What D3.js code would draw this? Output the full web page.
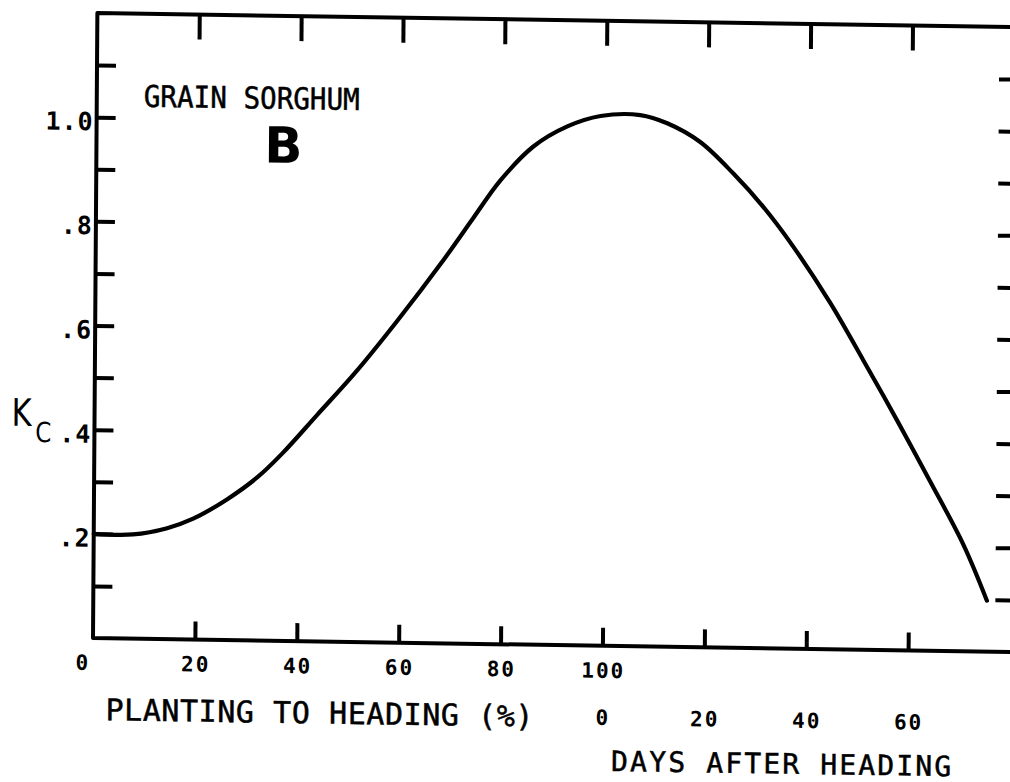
<!DOCTYPE html>
<html>
<head>
<meta charset="utf-8">
<script src="https://cdn.jsdelivr.net/npm/d3@7"></script>
<style>
  html, body { margin: 0; padding: 0; background: #fff; }
  svg { display: block; }
</style>
</head>
<body>
<svg id="chart" width="1010" height="782"></svg>
<script>
// ---- data ----
// x: 0-100 = % planting to heading, 100+ = 100 + days after heading
const stageX = [0, 7.7, 14.4, 19.5, 26.1, 32.0, 37.1, 43.7, 51.1, 59.3, 68.2, 74.1, 79.3, 85.7, 92.4, 98.9,
                106.7, 112.0, 118.5, 125.1, 131.0, 136.9, 144.3, 150.8, 157.6, 164.1, 170.7, 175.4];
const kcValues = [0.20, 0.20, 0.213, 0.232, 0.27, 0.313, 0.362, 0.435, 0.517, 0.618, 0.735, 0.818, 0.89, 0.956, 0.996, 1.017,
                  1.02, 1.005, 0.97, 0.91, 0.847, 0.772, 0.664, 0.556, 0.44, 0.325, 0.205, 0.098];

const pctTickValues = [0, 20, 40, 60, 80, 100];
const pctTickLabels = ["0", "20", "40", "60", "80", "100"];
const dayTickValues = [0, 20, 40, 60];
const dayTickLabels = ["0", "20", "40", "60"];
const frameTickValues = [20, 40, 60, 80, 100, 120, 140, 160];
const yTickValues = [0.1, 0.2, 0.3, 0.4, 0.5, 0.6, 0.7, 0.8, 0.9, 1.0, 1.1];
const yLabelValues = [1.0, 0.8, 0.6, 0.4, 0.2];
const yLabelTexts = ["1.0", ".8", ".6", ".4", ".2"];

const titleText = "GRAIN SORGHUM";
const panelText = "B";
const xTitle1 = "PLANTING TO HEADING (%)";
const xTitle2 = "DAYS AFTER HEADING";
const yTitleMain = "K";
const yTitleSub = "C";

// ---- layout ----
const svg = d3.select("#chart");
svg.append("rect").attr("width", 1010).attr("height", 782).attr("fill", "#fff");

const plotW = 920, plotH = 625;
const xScale = d3.scaleLinear().domain([0, 180]).range([0, 917]);
const yScale = d3.scaleLinear().domain([0, 1.2]).range([0, -plotH]);

// slight skew, as in the scanned original
const g = svg.append("g").attr("transform", "matrix(1,0.0153,-0.007,1,93,638)");

const mono = "'DejaVu Sans Mono', 'Liberation Mono', monospace";

// frame
g.append("path")
  .attr("d", `M${plotW + 10},${-plotH} H0 V0 H${plotW + 10}`)
  .attr("fill", "none").attr("stroke", "#000").attr("stroke-width", 4)
  .attr("stroke-linejoin", "round");

function styleAxis(sel) {
  sel.select(".domain").remove();
  sel.selectAll(".tick line").attr("stroke", "#000").attr("stroke-width", 4);
  sel.selectAll(".tick text").remove();
}

g.append("g").call(d3.axisBottom(xScale).tickValues(frameTickValues).tickSize(-18).tickFormat(""))
  .call(styleAxis);
g.append("g").attr("transform", `translate(0,${-plotH})`)
  .call(d3.axisTop(xScale).tickValues(frameTickValues).tickSize(-25).tickFormat(""))
  .call(styleAxis);
g.append("g").call(d3.axisLeft(yScale).tickValues(yTickValues).tickSize(-19).tickFormat(""))
  .call(styleAxis);
g.append("g").attr("transform", `translate(${plotW},0)`)
  .call(d3.axisRight(yScale).tickValues(yTickValues).tickSize(-18).tickFormat(""))
  .call(styleAxis);

// curve
const pts = stageX.map((x, i) => [x, kcValues[i]]);
g.append("path")
  .datum(pts)
  .attr("d", d3.line().x(d => xScale(d[0])).y(d => yScale(d[1])).curve(d3.curveCatmullRom.alpha(0.5)))
  .attr("fill", "none").attr("stroke", "#000").attr("stroke-width", 4.2)
  .attr("stroke-linecap", "round");

// y tick labels
g.selectAll(".ylab").data(yLabelValues).join("text")
  .attr("x", -3).attr("y", d => yScale(d) + 13)
  .attr("text-anchor", "end")
  .attr("font-family", mono).attr("font-size", 25).attr("font-weight", "bold")
  .attr("letter-spacing", 1)
  .text((d, i) => yLabelTexts[i]);

// x tick labels (percent)
g.selectAll(".xlab").data(pctTickValues).join("text")
  .attr("x", d => d === 0 ? xScale(d) - 10 : xScale(d) + 1)
  .attr("y", 32)
  .attr("text-anchor", "middle")
  .attr("font-family", mono).attr("font-size", 21).attr("font-weight", "bold")
  .attr("letter-spacing", 2)
  .text((d, i) => pctTickLabels[i]);

// x tick labels (days after heading)
g.selectAll(".dlab").data(dayTickValues).join("text")
  .attr("x", d => xScale(100 + d) + 1)
  .attr("y", 79)
  .attr("text-anchor", "middle")
  .attr("font-family", mono).attr("font-size", 21).attr("font-weight", "bold")
  .attr("letter-spacing", 2)
  .text((d, i) => dayTickLabels[i]);

// axis titles
g.append("text").attr("x", 13).attr("y", 82)
  .attr("font-family", mono).attr("font-size", 30)
  .attr("stroke", "#000").attr("stroke-width", 0.5)
  .attr("textLength", 428).attr("lengthAdjust", "spacing")
  .text(xTitle1);
g.append("text").attr("x", 519).attr("y", 125)
  .attr("font-family", mono).attr("font-size", 28)
  .attr("stroke", "#000").attr("stroke-width", 0.5)
  .attr("textLength", 340).attr("lengthAdjust", "spacing")
  .text(xTitle2);

// Kc
g.append("text").attr("x", -83).attr("y", -211)
  .attr("font-family", "'DejaVu Sans', sans-serif").attr("font-size", 38)
  .attr("textLength", 20).attr("lengthAdjust", "spacingAndGlyphs")
  .text(yTitleMain);
g.append("text").attr("x", -59).attr("y", -195)
  .attr("font-family", "'DejaVu Sans', sans-serif").attr("font-size", 28)
  .attr("textLength", 16).attr("lengthAdjust", "spacingAndGlyphs")
  .text(yTitleSub);

// title and panel letter
g.append("text").attr("x", 47).attr("y", -532)
  .attr("font-family", mono).attr("font-size", 30)
  .attr("stroke", "#000").attr("stroke-width", 0.5)
  .attr("textLength", 216).attr("lengthAdjust", "spacingAndGlyphs")
  .text(titleText);
g.append("text").attr("x", 187).attr("y", -478)
  .attr("text-anchor", "middle")
  .attr("font-family", "'DejaVu Sans', sans-serif").attr("font-size", 50).attr("font-weight", "bold")
  .text(panelText);
</script>
</body>
</html>
